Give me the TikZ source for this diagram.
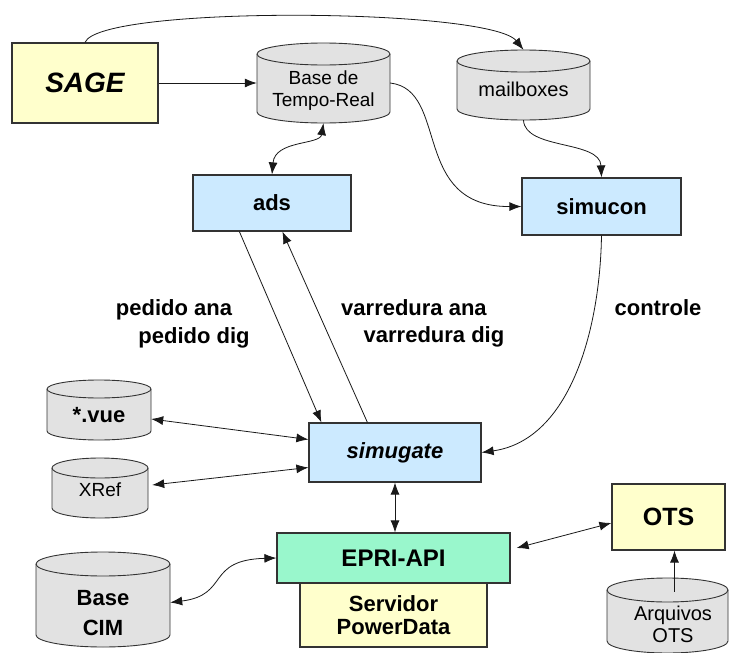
\documentclass[tikz,border=0pt]{standalone}
\usepackage{fontspec}
\setmainfont{Liberation Sans}
\usetikzlibrary{arrows.meta,calc}
\definecolor{boxyel}{HTML}{FFFFCC}
\definecolor{boxblue}{HTML}{CCEAFF}
\definecolor{boxgreen}{HTML}{99F7CC}
\definecolor{cylgray}{HTML}{E2E2E2}
\definecolor{edgecol}{HTML}{333333}
\newcommand{\dbcyl}[6]{%
  \pgfmathsetmacro{\cylrx}{(#4-#2)/2}%
  \filldraw[cylshape] (#2,-#3-#6) -- (#2,-#5+#6)
     arc[start angle=180,end angle=360,x radius=\cylrx pt,y radius=#6pt]
     -- (#4,-#3-#6)
     arc[start angle=0,end angle=180,x radius=\cylrx pt,y radius=#6pt] -- cycle;
  \draw[cylshape,fill=none] (#2,-#3-#6)
     arc[start angle=180,end angle=360,x radius=\cylrx pt,y radius=#6pt];
  \node[inner sep=0pt,minimum width={(#4-#2)*1pt},minimum height={(#5-#3)*1pt}]
     (#1) at ({(#2+#4)/2},{-(#3+#5)/2}) {};
}
\tikzset{
  sysbox/.style={draw=edgecol, line width=1.2pt, inner sep=0pt,
    font=\bfseries\fontsize{22}{26}\selectfont, align=center},
  cylshape/.style={draw=edgecol, line width=0.9pt, fill=cylgray},
  cyltext/.style={inner sep=0pt, align=center, font=\fontsize{19}{22}\selectfont},
  cyltextb/.style={inner sep=0pt, align=center, font=\bfseries\fontsize{22}{30}\selectfont},
  lbl/.style={inner sep=0pt, font=\bfseries\fontsize{22}{26}\selectfont},
  conn/.style={draw=black!90, line width=0.8pt, -{Latex[length=12pt,width=9pt]}},
  biconn/.style={draw=black!90, line width=0.8pt,
    {Latex[length=12pt,width=9pt]}-{Latex[length=12pt,width=9pt]}},
}
\begin{document}
\begin{tikzpicture}[x=1pt,y=1pt]
\useasboundingbox (0,0) rectangle (732,-653);
\fill[white] (0,0) rectangle (732,-653);

% boxes
\node[sysbox, fill=boxyel, minimum width=146pt, minimum height=80pt,
  font=\bfseries\itshape\fontsize{28}{32}\selectfont] (sage) at (85,-83) {SAGE};
\node[sysbox, fill=boxblue, minimum width=158pt, minimum height=56pt] (ads) at (272,-203) {ads};
\node[sysbox, fill=boxblue, minimum width=159pt, minimum height=57pt] (simucon) at (601.5,-206.5) {simucon};
\node[sysbox, fill=boxblue, minimum width=172pt, minimum height=59pt,
  font=\bfseries\itshape\fontsize{22}{26}\selectfont] (simugate) at (395,-452.5) {simugate};
\node[sysbox, fill=boxyel, minimum width=187pt, minimum height=64pt,
  font=\bfseries\fontsize{22}{23}\selectfont] (servidor) at (393.5,-615) {Servidor\\PowerData};
\node[sysbox, fill=boxgreen, minimum width=233pt, minimum height=50pt,
  font=\bfseries\fontsize{24}{28}\selectfont] (epri) at (393.5,-558) {EPRI-API};
\node[sysbox, fill=boxyel, minimum width=113pt, minimum height=66pt,
  font=\bfseries\fontsize{25}{28}\selectfont] (ots) at (668.5,-517) {OTS};

% cylinders
\dbcyl{basert}{257}{43}{390}{123}{11}
\node[cyltext] (basertlbl) at (323.5,-91) {Base de\\Tempo-Real};
\dbcyl{mail}{457}{50}{590}{120}{11}
\node[cyltext, font=\fontsize{20}{22}\selectfont] (maillbl) at (523.5,-89) {mailboxes};
\dbcyl{vue}{47}{380}{151}{440}{9}
\node[cyltext, font=\bfseries\fontsize{22}{26}\selectfont] (vuelbl) at (99,-415) {*.vue};
\dbcyl{xref}{52}{458}{148}{518}{10}
\node[cyltext] (xreflbl) at (100,-490) {XRef};
\dbcyl{cim}{36}{552}{170}{647}{12}
\node[cyltextb] (cimlbl) at (103,-613) {Base\\CIM};
\dbcyl{arq}{607}{578}{728}{653}{12}
\node[cyltext, font=\fontsize{20}{22}\selectfont] (arqlbl) at (673,-624) {Arquivos\\OTS};

% labels
\node[lbl] (pa) at (174,-310) {pedido ana};
\node[lbl] (pd) at (194,-338) {pedido dig};
\node[lbl] (va) at (414,-308) {varredura ana};
\node[lbl] (vd) at (434,-337) {varredura dig};
\node[lbl] (ctl) at (658,-308) {controle};

% connectors
\draw[conn] (sage.east) -- (basert.west);
\draw[conn] (sage.north) .. controls (100,-5) and (490,-8) .. (mail.north);
\draw[biconn] (basert.south) .. controls (320,-145) and (275,-140) .. (ads.north);
\draw[conn] (basert.east) .. controls (450,-90) and (410,-207) .. (simucon.west);
\draw[conn] (mail.south) .. controls (525,-150) and (600,-140) .. (simucon.north);
\draw[conn] (simucon.south) .. controls (600,-330) and (570,-440) .. (simugate.east);
\draw[conn] ($(ads.south west)+(47,0)$) -- ($(simugate.north west)+(13,0)$);
\draw[conn] ($(simugate.north west)+(59,0)$) -- ($(ads.south west)+(90,0)$);
\draw[biconn] ($(vue.east)+(0,-9)$) -- ($(simugate.west)+(0,13)$);
\draw[biconn] ($(xref.east)+(4,3)$) -- ($(simugate.west)+(0,-15)$);
\draw[biconn] (simugate.south) -- (simugate.south |- epri.north);
\draw[biconn] ($(cim.east)+(0,-3)$) .. controls (230,-595) and (205,-560) .. (epri.west);
\draw[biconn] ($(epri.east)+(6,10)$) -- ($(ots.west)+(0,-6)$);
\coordinate (arqtop) at ($(arq.north)+(7,-14)$);
\draw[conn] (arqtop) -- (arqtop |- ots.south);
\end{tikzpicture}
\end{document}
